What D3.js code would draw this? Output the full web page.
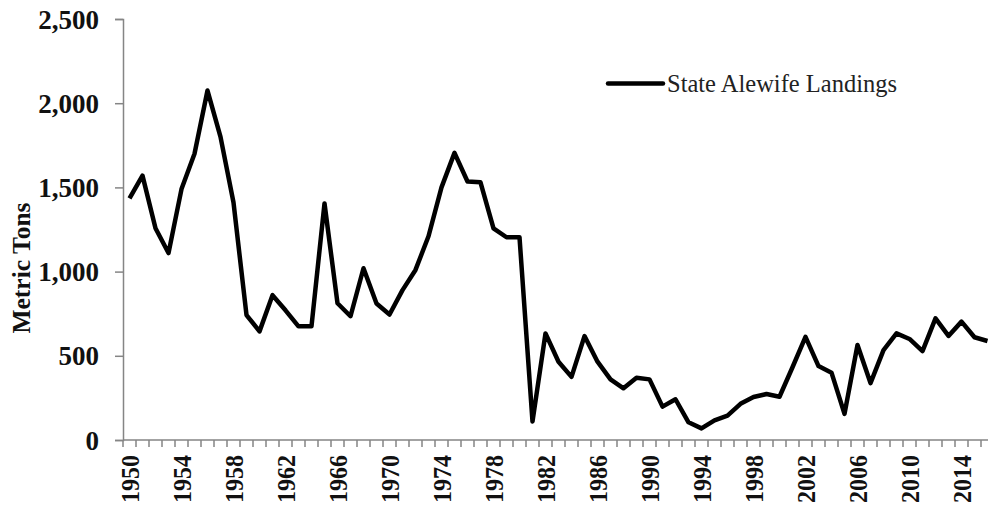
<!DOCTYPE html>
<html>
<head>
<meta charset="utf-8">
<script src="https://cdn.jsdelivr.net/npm/d3@7/dist/d3.min.js"></script>
<style>
  html, body { margin: 0; padding: 0; background: #fff; }
  svg { display: block; }
</style>
</head>
<body>
<svg id="chart" width="988" height="512"></svg>
<script>
const years = d3.range(1950, 2017);
const landings = [
  1435, 1570, 1257, 1110, 1490, 1700, 2075, 1800, 1410, 742,
  645, 860, 770, 675, 675, 1405, 812, 735, 1020, 810,
  745, 890, 1010, 1210, 1500, 1705, 1535, 1530, 1257, 1204,
  1204, 110, 633, 465, 375, 617, 465, 360, 307, 370,
  360, 198, 242, 105, 69, 117, 145, 215, 255, 273,
  257, 432, 612, 439, 400, 155, 564, 338, 534, 633,
  600, 528, 722, 618, 703, 610, 588
];
const yTicks = [0, 500, 1000, 1500, 2000, 2500];
const labelYears = d3.range(1950, 2017, 4);
const seriesName = "State Alewife Landings";
const yTitle = "Metric Tons";

(function () {
const svg = d3.select("#chart");
const mLeft = 123, mRight = 123 + 13 * years.length, mTop = 19, mBottom = 440;
const axisColor = "#858585";
const serif = "'Liberation Serif', 'Times New Roman', serif";

const x = d3.scaleBand().domain(years).range([mLeft, mRight]).padding(0);
const y = d3.scaleLinear().domain([0, 2500]).range([mBottom, mTop]);

// Y axis
const yAxis = d3.axisLeft(y).tickValues(yTicks).tickSize(8).tickPadding(16)
  .tickFormat(d3.format(","));
const gy = svg.append("g").attr("transform", `translate(${mLeft},0)`).call(yAxis);
gy.select(".domain").attr("stroke", axisColor).attr("stroke-width", 1.5);
gy.selectAll(".tick line").attr("stroke", axisColor).attr("stroke-width", 1.5);
gy.selectAll(".tick text")
  .attr("font-family", serif).attr("font-weight", "bold")
  .attr("font-size", 27).attr("fill", "#111").attr("dy", "0.34em");

// X axis: domain line and boundary ticks
const lastYear = years[years.length - 1];
const gx = svg.append("g");
gx.append("line")
  .attr("x1", mLeft).attr("x2", mRight).attr("y1", mBottom).attr("y2", mBottom)
  .attr("stroke", axisColor).attr("stroke-width", 1.5);
gx.selectAll("line.tk").data(years.concat([lastYear + 1]))
  .enter().append("line").attr("class", "tk")
  .attr("x1", d => d <= lastYear ? x(d) : mRight)
  .attr("x2", d => d <= lastYear ? x(d) : mRight)
  .attr("y1", mBottom).attr("y2", mBottom + 7)
  .attr("stroke", axisColor).attr("stroke-width", 1.5);
gx.selectAll("text.xl").data(labelYears).enter().append("text")
  .attr("class", "xl")
  .attr("transform", d => `translate(${x(d) + x.bandwidth() / 2},${mBottom + 15}) rotate(-90)`)
  .attr("text-anchor", "end").attr("dy", "0.35em")
  .attr("font-family", serif).attr("font-weight", "bold")
  .attr("font-size", 26).attr("fill", "#111")
  .attr("textLength", 48).attr("lengthAdjust", "spacingAndGlyphs")
  .text(d => d);

// Y title
svg.append("text")
  .attr("transform", `translate(21,268) rotate(-90)`)
  .attr("text-anchor", "middle").attr("dy", "0.35em")
  .attr("font-family", serif).attr("font-weight", "bold")
  .attr("font-size", 25.5).attr("fill", "#111")
  .text(yTitle);

// Line
const line = d3.line()
  .x((d, i) => x(years[i]) + x.bandwidth() / 2)
  .y(d => y(d));
svg.append("path").datum(landings)
  .attr("d", line)
  .attr("fill", "none").attr("stroke", "#000")
  .attr("stroke-width", 4.5).attr("stroke-linejoin", "round");

// Legend
svg.append("line")
  .attr("x1", 608).attr("x2", 663).attr("y1", 83.5).attr("y2", 83.5)
  .attr("stroke", "#000").attr("stroke-width", 4.5).attr("stroke-linecap", "round");
svg.append("text")
  .attr("x", 667).attr("y", 91.5)
  .attr("font-family", serif).attr("font-size", 24.5).attr("fill", "#222")
  .text(seriesName);
})();
</script>
</body>
</html>
